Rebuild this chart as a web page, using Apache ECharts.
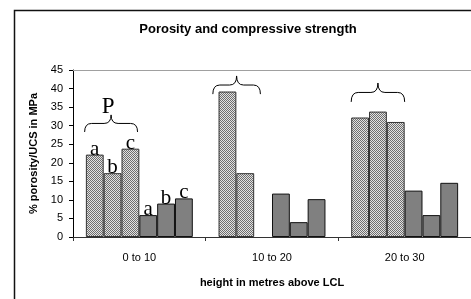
<!DOCTYPE html>
<html><head><meta charset="utf-8">
<script src="https://cdn.jsdelivr.net/npm/echarts@6/dist/echarts.min.js"></script>
<style>html,body{margin:0;padding:0;background:#fff;overflow:hidden}#c{width:471px;height:299px}</style>
</head><body><div id="c"></div>
<script>
// ---- data ----
const categories = ['0 to 10', '10 to 20', '20 to 30'];
const porosityA = [22.2, 39.2, 32.2];
const porosityB = [17.2, 17.2, 33.8];
const porosityC = [23.8, null, 31.0];
const ucsA = [5.9, 11.7, 12.5];
const ucsB = [9.0, 4.0, 5.9];
const ucsC = [10.4, 10.2, 14.6];
const seriesLetters = ['a', 'b', 'c', 'a', 'b', 'c'];
// brace annotations (category index, y-value levels, extent in bar slots)
const braceGroups = [0, 1, 2];
const braceBottom = [28.3, 38.5, 36.4];
const braceTop = [32.9, 43.4, 41.5];
const braceFrom = [-0.07, -0.32, 0];
const braceTo = [2.9, 2.35, 3.0];
const braceTexts = ['P', '', ''];

const chart = echarts.init(document.getElementById('c'), null, {renderer: 'canvas'});

function hatch() {
  const c = document.createElement('canvas');
  c.width = 2; c.height = 2;
  const g = c.getContext('2d');
  g.fillStyle = '#e2e2e2'; g.fillRect(0, 0, 2, 2);
  g.fillStyle = '#6e6e6e'; g.fillRect(0, 0, 1, 1); g.fillRect(1, 1, 1, 1);
  return c;
}
const pattern = {image: hatch(), repeat: 'repeat'};
const GAP = 0.194;
const sData = [porosityA, porosityB, porosityC, ucsA, ucsB, ucsC];
const series = sData.map((d, i) => ({
  type: 'bar',
  data: d,
  barGap: '0%',
  barCategoryGap: (GAP * 100) + '%',
  xAxisIndex: 0,
  itemStyle: i < 3 ? {color: pattern, borderColor: '#333', borderWidth: 1}
                   : {color: '#808080', borderColor: '#111', borderWidth: 1},
  label: {
    show: true, position: 'top', distance: 0, offset: [0, 5],
    fontFamily: 'Liberation Serif', fontSize: 21, color: '#000',
    formatter: p => (p.dataIndex === 0 ? seriesLetters[i] : '')
  },
  emphasis: {disabled: true},
  animation: false
}));

const sans = 'Liberation Sans';
chart.setOption({
  animation: false,
  title: {
    text: 'Porosity and compressive strength',
    left: 248, top: 23, padding: 0, textAlign: 'center',
    textStyle: {fontFamily: sans, fontSize: 13, fontWeight: 'bold', color: '#000'}
  },
  grid: {left: 73, top: 70, bottom: 62, right: -4, containLabel: false},
  xAxis: [{
    type: 'category', data: categories, position: 'bottom',
    axisLine: {lineStyle: {color: '#333', width: 1}},
    axisTick: {show: true, length: 4, lineStyle: {color: '#333'}},
    axisLabel: {margin: 15, fontFamily: sans, fontSize: 11, color: '#000'},
    name: 'height in metres above LCL', nameLocation: 'middle', nameGap: 40,
    nameTextStyle: {fontFamily: sans, fontSize: 11, fontWeight: 'bold', color: '#000'}
  }, {
    type: 'category', data: categories, position: 'top',
    axisLine: {lineStyle: {color: '#a0a0a0', width: 1}},
    axisTick: {show: false}, axisLabel: {show: false}
  }],
  yAxis: {
    type: 'value', min: 0, max: 45, interval: 5,
    axisLine: {show: true, lineStyle: {color: '#000', width: 1}},
    axisTick: {show: true, length: 4, lineStyle: {color: '#000'}},
    splitLine: {show: false},
    axisLabel: {margin: 10, fontFamily: sans, fontSize: 11, color: '#000'},
    name: '% porosity/UCS in MPa', nameLocation: 'middle', nameGap: 33, nameRotate: 90,
    nameTextStyle: {fontFamily: sans, fontSize: 11, fontWeight: 'bold', color: '#000'}
  },
  series: series
});

function drawBraces() {
  const p0 = chart.convertToPixel({xAxisIndex: 0}, categories[0]);
  const p1 = chart.convertToPixel({xAxisIndex: 0}, categories[1]);
  const catW = p1 - p0;
  const barW = catW * (1 - GAP) / 6;
  const els = [{
    type: 'rect', shape: {x: 14.5, y: 10.5, width: 600, height: 400},
    style: {fill: null, stroke: '#111', lineWidth: 1.5}, silent: true, z: 100
  }];
  braceGroups.forEach((g, k) => {
    const c = chart.convertToPixel({xAxisIndex: 0}, categories[g]);
    const start = c - 3 * barW;
    const xl = start + braceFrom[k] * barW, xr = start + braceTo[k] * barW;
    const yb = chart.convertToPixel({yAxisIndex: 0}, braceBottom[k]);
    const yt = chart.convertToPixel({yAxisIndex: 0}, braceTop[k]);
    const ym = yb - (yb - yt) * 0.5;
    const xm = (xl + xr) / 2;
    const r = Math.min(7, (xm - xl) / 3);
    const st = {stroke: '#000', lineWidth: 1, fill: null};
    const seg = (x1, y1, cx, cy, x2, y2) => ({type: 'bezierCurve', shape: {x1, y1, cpx1: cx, cpy1: cy, x2, y2}, style: st, z: 50, silent: true});
    els.push(seg(xl, yb, xl, ym, xl + r, ym));
    els.push({type: 'line', shape: {x1: xl + r, y1: ym, x2: xm - r, y2: ym}, style: st, z: 50, silent: true});
    els.push(seg(xm - r, ym, xm, ym, xm, yt));
    els.push(seg(xm, yt, xm, ym, xm + r, ym));
    els.push({type: 'line', shape: {x1: xm + r, y1: ym, x2: xr - r, y2: ym}, style: st, z: 50, silent: true});
    els.push(seg(xr - r, ym, xr, ym, xr, yb));
    if (braceTexts[k]) {
      els.push({type: 'text', x: xm - 3, y: yt + 4, z: 50, silent: true,
        style: {text: braceTexts[k], font: '23px "Liberation Serif"', fontSize: 23, fontFamily: 'Liberation Serif',
          fill: '#000', textAlign: 'center', textVerticalAlign: 'bottom', align: 'center', verticalAlign: 'bottom'}});
    }
  });
  chart.setOption({graphic: els});
}
drawBraces();
</script>
</body></html>
